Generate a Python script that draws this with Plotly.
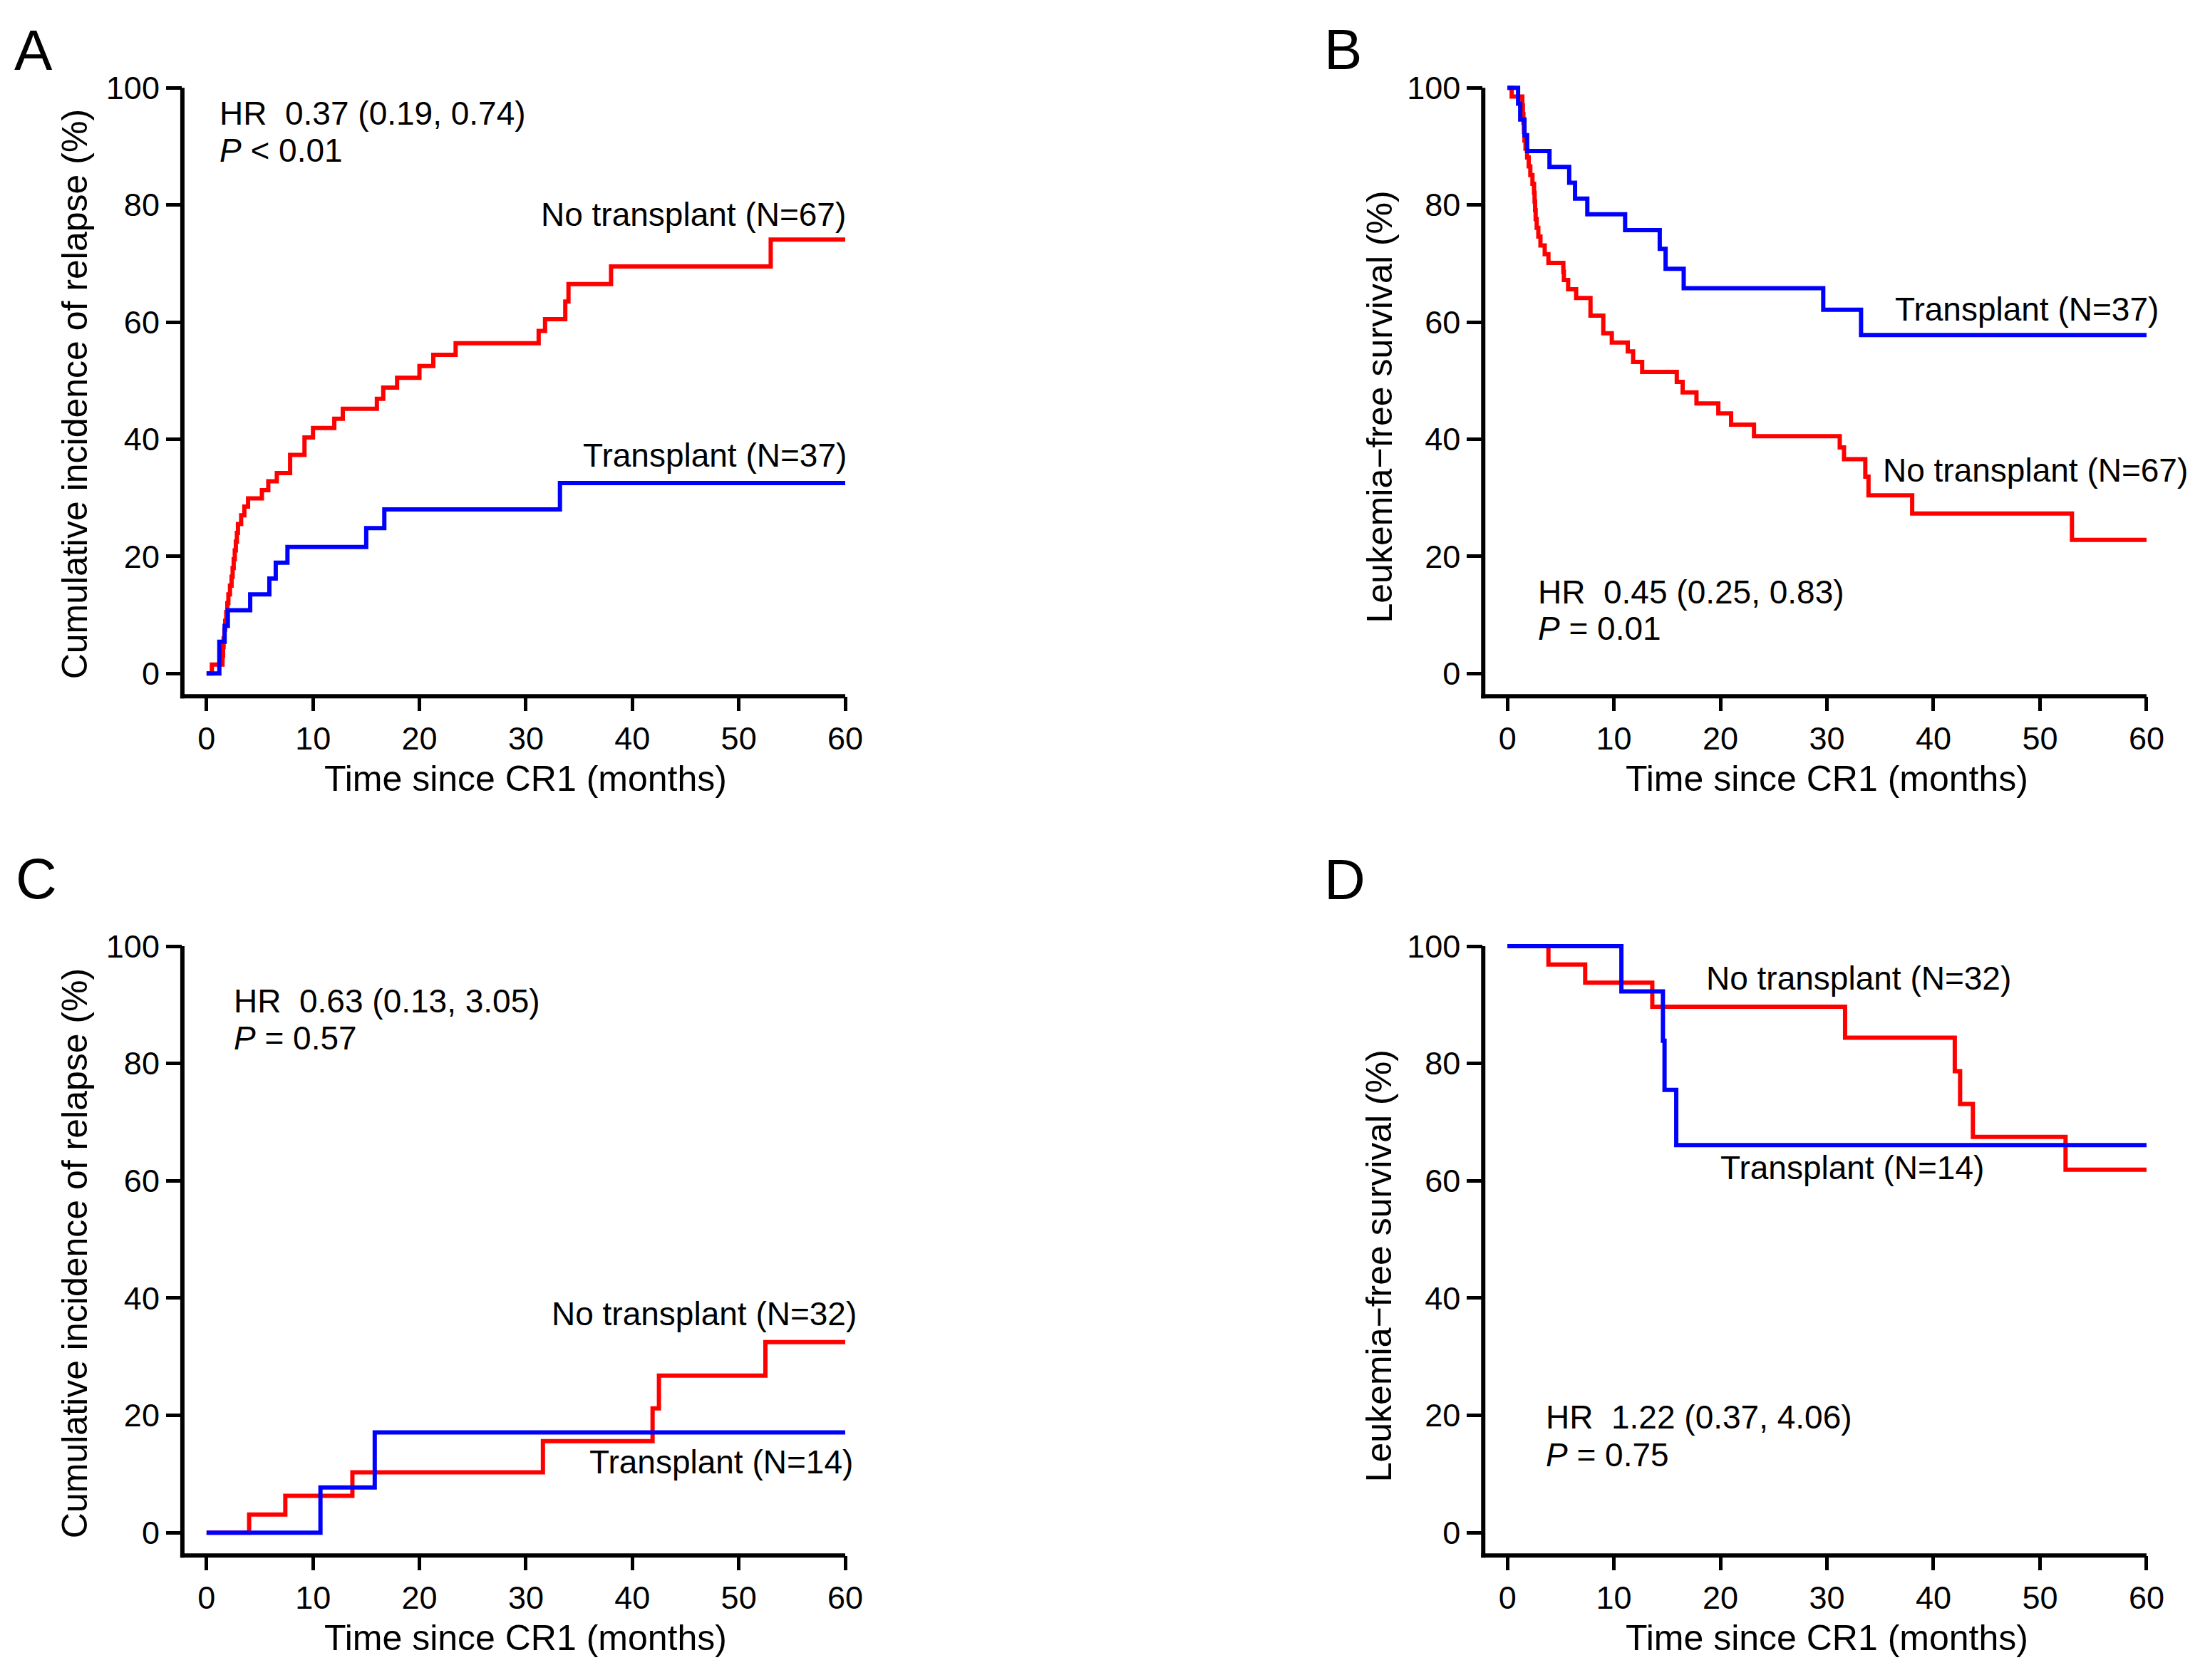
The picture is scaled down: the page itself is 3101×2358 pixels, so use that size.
import plotly.graph_objects as go

# ---- data (months, %) ----
# A: cumulative incidence of relapse, all patients
a_no_t = [0, 0.5, 1.5, 1.55, 1.6, 1.68, 1.75, 1.85, 1.95, 2.05, 2.2, 2.35, 2.45, 2.55, 2.65,
          2.75, 2.85, 2.95, 3.25, 3.55, 3.9, 5.2, 5.8, 6.6, 7.85, 9.2, 10.0, 12.0, 12.8, 16.0,
          16.6, 17.9, 20.0, 21.3, 23.4, 31.2, 31.8, 33.7, 34.0, 38.0, 53.0, 60]
a_no_v = [0, 1.5, 3.0, 4.5, 6.0, 7.5, 9.0, 10.5, 12.0, 13.5, 15.0, 16.5, 18.0, 19.5, 21.0,
          22.5, 24.0, 25.5, 27.0, 28.5, 29.9, 31.3, 32.8, 34.2, 37.3, 40.3, 41.9, 43.5, 45.2, 46.9,
          48.8, 50.5, 52.5, 54.4, 56.4, 58.5, 60.5, 63.5, 66.5, 69.5, 74.1, 74.1]
a_tx_t = [0, 1.2, 1.7, 2.0, 4.1, 5.9, 6.5, 7.6, 15.0, 16.7, 33.2, 60]
a_tx_v = [0, 5.4, 8.1, 10.8, 13.5, 16.2, 18.9, 21.6, 24.8, 28.0, 32.5, 32.5]

# B: leukemia-free survival, all patients
b_no_t = [0, 0.4, 1.4, 1.45, 1.5, 1.55, 1.6, 1.7, 1.85, 2.0, 2.15, 2.35, 2.5, 2.55, 2.6, 2.65,
          2.75, 2.9, 3.1, 3.5, 3.85, 5.25, 5.3, 5.7, 6.45, 7.8, 9.0, 9.8, 11.3, 11.8, 12.65,
          15.9, 16.45, 17.75, 19.8, 21.0, 23.15, 31.2, 31.6, 33.6, 33.9, 38.0, 53.0, 60]
b_no_v = [100, 98.5, 97.0, 95.5, 94.0, 92.5, 91.0, 89.6, 88.1, 86.6, 85.1, 83.6, 82.1, 80.6, 79.1,
          77.6, 76.1, 74.6, 73.1, 71.6, 70.1, 68.6, 67.2, 65.6, 64.1, 61.1, 58.1, 56.5, 55.0, 53.2,
          51.5, 49.8, 48.0, 46.1, 44.4, 42.5, 40.5, 38.6, 36.6, 33.6, 30.4, 27.3, 22.8, 22.8]
b_tx_t = [0, 1.0, 1.2, 1.6, 1.85, 3.95, 5.8, 6.35, 7.5, 11.05, 14.3, 14.85, 16.55, 29.65, 33.2, 60]
b_tx_v = [100, 97.3, 94.6, 91.9, 89.2, 86.5, 83.8, 81.1, 78.4, 75.7, 72.5, 69.1, 65.8, 62.1, 57.8, 57.8]

# C: cumulative incidence of relapse, subgroup
c_no_t = [0, 4.0, 7.4, 13.7, 31.6, 41.9, 42.5, 52.5, 60]
c_no_v = [0, 3.1, 6.3, 10.3, 15.6, 21.2, 26.8, 32.5, 32.5]
c_tx_t = [0, 10.7, 15.8, 60]
c_tx_v = [0, 7.7, 17.1, 17.1]

# D: leukemia-free survival, subgroup
d_no_t = [0, 3.85, 7.3, 13.6, 31.7, 42.0, 42.5, 43.7, 52.4, 60]
d_no_v = [100, 96.9, 93.8, 89.7, 84.4, 78.7, 73.1, 67.5, 61.9, 61.9]
d_tx_t = [0, 10.7, 14.6, 14.75, 15.85, 60]
d_tx_v = [100, 92.3, 83.9, 75.5, 66.1, 66.1]

x_ticks = [0, 10, 20, 30, 40, 50, 60]
y_ticks = [0, 20, 40, 60, 80, 100]

RED = "#FF0000"
BLUE = "#0000FF"
FONT = "Liberation Sans, Arial, sans-serif"
W, H = 3101, 2358

XR = [-2.27, 60.8]
YR = [-3.9, 101.3]

# subplot domains (paper)
XD_L = [257 / W, 1203 / W]
XD_R = [2090 / W, 3036.6 / W]
YD_T = [1 - 969 / H, 1 - 99.2 / H]
YD_B = [1 - 2182.3 / H, 1 - 1311.2 / H]

panels = [
    # key, xdom, ydom, curves, ytitle, ytitle centre (px from top), letter, letter pos (px)
    ("", XD_L, YD_T, [(a_no_t, a_no_v), (a_tx_t, a_tx_v)],
     "Cumulative incidence of relapse (%)", (105, 543), "A", (18, 57)),
    ("2", XD_R, YD_T, [(b_no_t, b_no_v), (b_tx_t, b_tx_v)],
     "Leukemia\u2212free survival (%)", (1944, 560), "B", (1864, 56)),
    ("3", XD_L, YD_B, [(c_no_t, c_no_v), (c_tx_t, c_tx_v)],
     "Cumulative incidence of relapse (%)", (105, 1756), "C", (20, 1227)),
    ("4", XD_R, YD_B, [(d_no_t, d_no_v), (d_tx_t, d_tx_v)],
     "Leukemia\u2212free survival (%)", (1944, 1773), "D", (1864, 1228)),
]


def xpaper(dom, v):
    return dom[0] + (v - XR[0]) / (XR[1] - XR[0]) * (dom[1] - dom[0])


def ypaper(dom, v):
    return dom[0] + (v - YR[0]) / (YR[1] - YR[0]) * (dom[1] - dom[0])


fig = go.Figure()
shapes = []
annotations = []
layout_axes = {}
dom = {}

for key, xd, yd, curves, ytitle, tpos, letter, lpos in panels:
    xa, ya = "x" + key, "y" + key
    dom[key] = (xd, yd)
    for (t, v), col in zip(curves, [RED, BLUE]):
        fig.add_trace(go.Scatter(
            x=t, y=v, mode="lines", line=dict(color=col, width=6, shape="hv"),
            xaxis=xa, yaxis=ya, showlegend=False, hoverinfo="skip"))

    common = dict(showgrid=False, zeroline=False, showline=False, ticks="outside",
                  tickcolor="black", tickwidth=5,
                  tickfont=dict(family=FONT, size=45, color="black"))
    layout_axes["xaxis" + key] = dict(common, domain=xd, range=XR, tickvals=x_ticks,
                                      ticklen=20, anchor=ya)
    layout_axes["yaxis" + key] = dict(common, domain=yd, range=YR, tickvals=y_ticks,
                                      ticklen=22, anchor=xa)

    # L-shaped axis lines
    hx, hy = 3 / W, 3 / H
    shapes.append(dict(type="line", xref="paper", yref="paper",
                       x0=xd[0], x1=xd[0], y0=yd[0] - hy, y1=ypaper(yd, 100),
                       line=dict(color="black", width=6)))
    shapes.append(dict(type="line", xref="paper", yref="paper",
                       x0=xd[0] - hx, x1=xpaper(xd, 60), y0=yd[0], y1=yd[0],
                       line=dict(color="black", width=6)))

    # axis titles
    annotations.append(dict(x=xpaper(xd, 30), y=yd[0] - 116 / H, xref="paper", yref="paper",
                            text="Time since CR1 (months)", showarrow=False,
                            xanchor="center", yanchor="middle",
                            font=dict(family=FONT, size=50, color="black")))
    annotations.append(dict(x=tpos[0] / W, y=1 - tpos[1] / H, xref="paper", yref="paper",
                            text=ytitle, showarrow=False, textangle=-90,
                            xanchor="center", yanchor="middle",
                            font=dict(family=FONT, size=50, color="black")))
    # panel letter
    annotations.append(dict(x=lpos[0] / W, y=1 - lpos[1] / H, xref="paper", yref="paper",
                            text=letter, showarrow=False, xanchor="left", yanchor="middle",
                            font=dict(family=FONT, size=80, color="black")))

# in-plot labels: (panel key, x, y, text, xanchor)
labels = [
    ("", 1.1, 95.7, "HR\u00a0 0.37 (0.19, 0.74)", "left"),
    ("", 1.1, 89.3, "<i>P</i> &lt; 0.01", "left"),
    ("", 60.2, 78.4, "No transplant (N=67)", "right"),
    ("", 60.3, 37.2, "Transplant (N=37)", "right"),
    ("2", 61.3, 62.2, "Transplant (N=37)", "right"),
    ("2", 64.0, 34.7, "No transplant (N=67)", "right"),
    ("2", 2.7, 13.9, "HR\u00a0 0.45 (0.25, 0.83)", "left"),
    ("2", 2.7, 7.7, "<i>P</i> = 0.01", "left"),
    ("3", 2.4, 90.6, "HR\u00a0 0.63 (0.13, 3.05)", "left"),
    ("3", 2.4, 84.4, "<i>P</i> = 0.57", "left"),
    ("3", 61.2, 37.3, "No transplant (N=32)", "right"),
    ("3", 60.9, 12.0, "Transplant (N=14)", "right"),
    ("4", 33.0, 94.6, "No transplant (N=32)", "center"),
    ("4", 32.4, 62.2, "Transplant (N=14)", "center"),
    ("4", 3.5, 19.7, "HR\u00a0 1.22 (0.37, 4.06)", "left"),
    ("4", 3.5, 13.3, "<i>P</i> = 0.75", "left"),
]
for key, x, y, text, anchor in labels:
    xd, yd = dom[key]
    # paper coordinates so labels running past the x range are still drawn
    annotations.append(dict(x=xpaper(xd, x), y=ypaper(yd, y), xref="paper", yref="paper",
                            text=text, showarrow=False, xanchor=anchor, yanchor="middle",
                            font=dict(family=FONT, size=46, color="black")))

fig.update_layout(
    width=W, height=H, margin=dict(l=0, r=0, t=0, b=0),
    paper_bgcolor="white", plot_bgcolor="white",
    shapes=shapes, annotations=annotations, **layout_axes)

fig.write_html("out.html", config={"displayModeBar": False},
               post_script="document.body.style.margin = '0';")
